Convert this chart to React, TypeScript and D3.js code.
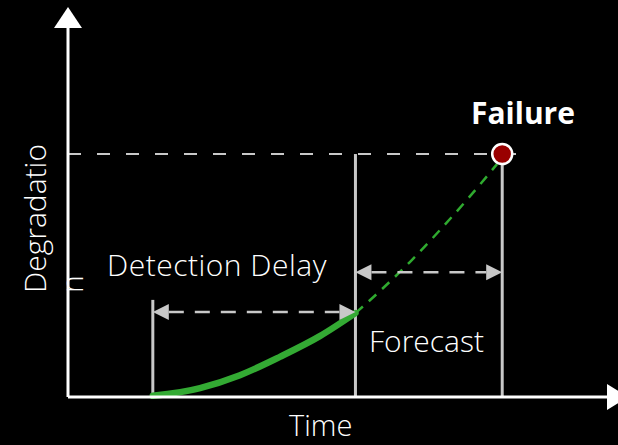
import React from 'react';
import * as d3 from 'd3';

// degradation curve
const observedTime = [2.93, 4.56, 5.94, 7.32, 8.7, 9.93];
const observedDeg = [0.3, 2.3, 5.6, 10.3, 15.6, 21.5];
const forecastTime = [9.93, 10.78, 11.81, 12.85, 13.89, 14.82];
const forecastDeg = [21.5, 27.2, 34.6, 42.8, 51.5, 59.7];

const detectStart = 2.93;
const detectEnd = 9.93;
const failureTime = 15.0;
const failureLevel = 62.3;

const W = 618;
const H = 445;
const font = "'Open Sans', 'Noto Sans', sans-serif";

export default function App() {
  const x = d3.scaleLinear().domain([0, 19]).range([68, 618]);
  const y = d3.scaleLinear().domain([0, 100]).range([397, 7]);

  const line = d3.line<[number, number]>()
    .x(d => x(d[0]))
    .y(d => y(d[1]))
    .curve(d3.curveMonotoneX);

  const observed = observedTime.map((t, i) => [t, observedDeg[i]] as [number, number]);
  const forecast = forecastTime.map((t, i) => [t, forecastDeg[i]] as [number, number]);

  const gray = '#c8c8c8';
  const x0 = x(0);
  const y0 = y(0);

  // double-headed dashed arrow
  const arrow = (xa: number, xb: number, yy: number, key: string) => {
    const hl = 16, hw = 8;
    return (
      <g key={key}>
        <line x1={xa + hl} x2={xb - hl} y1={yy} y2={yy} stroke={gray} strokeWidth={2.5} strokeDasharray="15 11" />
        <path d={`M${xa},${yy}L${xa + hl},${yy - hw}L${xa + hl},${yy + hw}Z`} fill={gray} />
        <path d={`M${xb},${yy}L${xb - hl},${yy - hw}L${xb - hl},${yy + hw}Z`} fill={gray} />
      </g>
    );
  };

  return (
    <svg width={W} height={H} style={{ position: 'absolute', left: 0, top: 0 }}>
      <rect width={W} height={H} fill="#000" />

      {/* failure threshold */}
      <line x1={x0} x2={530} y1={y(failureLevel)} y2={y(failureLevel)}
        stroke={gray} strokeWidth={2} strokeDasharray="13 16" />

      {/* vertical markers */}
      <line x1={x(detectStart)} x2={x(detectStart)} y1={y(24.9)} y2={y0} stroke={gray} strokeWidth={3} />
      <line x1={x(detectEnd)} x2={x(detectEnd)} y1={y(failureLevel)} y2={y0} stroke={gray} strokeWidth={3} />
      <line x1={x(failureTime)} x2={x(failureTime)} y1={y(failureLevel)} y2={y0} stroke={gray} strokeWidth={3} />

      {/* curves */}
      <path d={line(forecast) || ''} fill="none" stroke="#2faa2f" strokeWidth={2.5} strokeDasharray="10 8" />
      <path d={line(observed) || ''} fill="none" stroke="#33aa33" strokeWidth={6.5} strokeLinecap="round" />

      {arrow(x(detectStart), x(detectEnd), y(21.8), 'dd')}
      {arrow(x(detectEnd), x(failureTime), y(32), 'fc')}

      {/* axes */}
      <line x1={x0} x2={x0} y1={y0} y2={26} stroke="#fff" strokeWidth={3} />
      <path d={`M${x0},7L${x0 - 14},28L${x0 + 14},28Z`} fill="#fff" />
      <line x1={x0} x2={608} y1={y0} y2={y0} stroke="#fff" strokeWidth={3} />
      <path d={`M628,${y0}L607,${y0 - 13}L607,${y0 + 13}Z`} fill="#fff" />

      {/* failure point */}
      <circle cx={x(failureTime)} cy={y(failureLevel)} r={10} fill="#990000" stroke="#fff" strokeWidth={2.5} />

      {/* labels */}
      <g fontFamily={font} fill="#fff">
        <text x={107} y={276} fontSize={30} fontWeight={300} letterSpacing={0.5}>Detection Delay</text>
        <text x={369} y={352} fontSize={30} fontWeight={300}>Forecast</text>
        <text x={471} y={124} fontSize={30} fontWeight={700}>Failure</text>
        <text x={289} y={436} fontSize={29} fontWeight={300}>Time</text>
        <g transform="translate(46,293) rotate(-90)">
          <text x={0} y={0} fontSize={30} fontWeight={300}>Degradatio</text>
          <text x={0} y={37} fontSize={30} fontWeight={300}>n</text>
        </g>
      </g>
    </svg>
  );
}
